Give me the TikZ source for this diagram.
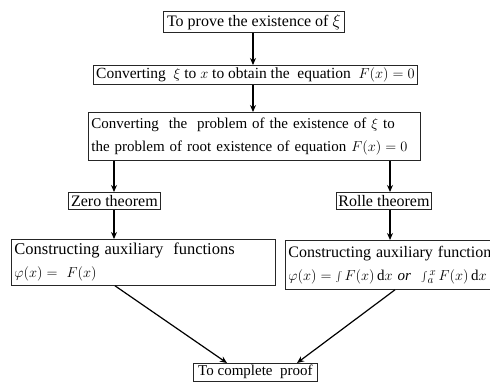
\documentclass[tikz,border=0pt]{standalone}
\usepackage{fontspec}
\setmainfont{Liberation Serif}
\usetikzlibrary{arrows.meta}
\begin{document}
\begin{tikzpicture}[x=1pt,y=-1pt,
  box/.style={draw=black!85,line width=0.8pt,inner sep=2pt,font=\fontsize{15}{23}\selectfont,anchor=north west},
  big/.style={font=\fontsize{16}{23}\selectfont},
  arr/.style={line width=1.2pt,-{Stealth[length=7pt,width=6pt]}}]
\useasboundingbox (0,0) rectangle (490,383);
\clip (0,0) rectangle (490,383);
\node[box,big,minimum width=181pt,minimum height=21pt] (b1) at (163,11) {To prove the existence of $\xi$};
\node[box,font=\fontsize{15.5}{23}\selectfont,minimum width=324pt,minimum height=19pt] (b2) at (93,65) {Converting \ $\xi$ to $x$ to obtain the \ equation \ $F(x)=0$};
\node[box,minimum width=332pt,minimum height=48pt,align=left,text width=326pt] (b3) at (88,112) {Converting \ the \ problem of the existence of $\xi$ to\\the problem of root existence of equation $F(x)=0$};
\node[box,big,minimum width=92pt,minimum height=17pt] (zero) at (68,192) {Zero theorem};
\node[box,big,minimum width=95pt,minimum height=17pt] (rolle) at (336,192) {Rolle theorem};
\node[box,minimum width=264pt,minimum height=46pt,align=left,text width=258pt] (cl) at (11,239) {{\fontsize{16.5}{23}\selectfont Constructing auxiliary \ functions}\\$\varphi(x) = \ F(x)$};
\node[box,minimum width=240pt,minimum height=49pt,align=left,text width=234pt] (cr) at (285,240) {{\fontsize{16}{23}\selectfont Constructing auxiliary functions}\\$\varphi(x) = \int F(x)\,\mathrm{d}x$ \textit{or} \ $\int_{\,a}^{\,x} F(x)\,\mathrm{d}x$};
\node[box,minimum width=124pt,minimum height=17pt] (fin) at (193,363) {To complete \ proof};
\draw[arr] (b1.south -| 253,0) -- (b2.north -| 253,0);
\draw[arr] (b2.south -| 253,0) -- (b3.north -| 253,0);
\draw[arr] (b3.south -| 114,0) -- (zero.north -| 114,0);
\draw[arr] (b3.south -| 390,0) -- (rolle.north -| 390,0);
\draw[arr] (zero.south -| 114,0) -- (cl.north -| 114,0);
\draw[arr] (rolle.south -| 390,0) -- (cr.north -| 390,0);
\draw[arr] (cl.south -| 115,0) -- (fin.north -| 227,0);
\draw[arr] (cr.south -| 395,0) -- (fin.north -| 297,0);
\end{tikzpicture}
\end{document}
